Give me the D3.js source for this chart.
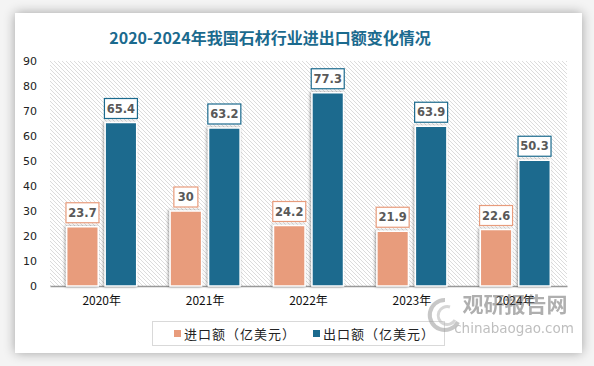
<!DOCTYPE html>
<html>
<head>
<meta charset="utf-8">
<script src="https://cdn.jsdelivr.net/npm/d3@7"></script>
<style>
  body { margin: 0; background: #fff; }
  svg { display: block; }
</style>
</head>
<body>
<div id="chart"></div>
<script>
// data
var years = ["2020年", "2021年", "2022年", "2023年", "2024年"];
var importVals = [23.7, 30, 24.2, 21.9, 22.6];
var exportVals = [65.4, 63.2, 77.3, 63.9, 50.3];
var seriesNames = ["进口额（亿美元）", "出口额（亿美元）"];
var yTicks = [0, 10, 20, 30, 40, 50, 60, 70, 80, 90];

var colors = ["#E89C7C", "#1B6A8E"];
var W = 594, H = 366;
var margin = {top: 61, right: 27, bottom: 80, left: 50},
    width = W - margin.left - margin.right,
    height = H - margin.top - margin.bottom;

var svg = d3.select("#chart")
  .append("svg")
    .attr("width", W)
    .attr("height", H);

var defs = svg.append("defs");

// card shadow
var sh = defs.append("filter").attr("id", "cardShadow")
  .attr("x", "-10%").attr("y", "-10%").attr("width", "120%").attr("height", "120%");
sh.append("feGaussianBlur").attr("in", "SourceAlpha").attr("stdDeviation", 6);
sh.append("feOffset").attr("dx", 0).attr("dy", 0).attr("result", "b");
sh.append("feComponentTransfer").append("feFuncA").attr("type", "linear").attr("slope", 0.35);
var m = sh.append("feMerge");
m.append("feMergeNode");
m.append("feMergeNode").attr("in", "SourceGraphic");

// bar shadow
var bs = defs.append("filter").attr("id", "barShadow")
  .attr("x", "-30%").attr("y", "-10%").attr("width", "160%").attr("height", "120%");
bs.append("feGaussianBlur").attr("in", "SourceAlpha").attr("stdDeviation", 1.5);
bs.append("feOffset").attr("dx", -1).attr("dy", 0);
bs.append("feComponentTransfer").append("feFuncA").attr("type", "linear").attr("slope", 0.4);
var m2 = bs.append("feMerge");
m2.append("feMergeNode");
m2.append("feMergeNode").attr("in", "SourceGraphic");

// hatch pattern
var pat = defs.append("pattern").attr("id", "hatch")
  .attr("patternUnits", "userSpaceOnUse")
  .attr("width", 4).attr("height", 4);
pat.append("rect").attr("width", 4).attr("height", 4).attr("fill", "#fff");
pat.append("path").attr("d", "M-1,-1 L5,5 M-1,3 L1,5 M3,-1 L5,1")
  .attr("stroke", "#dcdcdc").attr("stroke-width", 1);

// background
svg.append("rect").attr("width", W).attr("height", H).attr("fill", "#f4f4f4");
svg.append("rect")
  .attr("x", 15).attr("y", 13).attr("width", 567).attr("height", 340)
  .attr("fill", "#fff")
  .attr("filter", "url(#cardShadow)");

// title
svg.append("text")
  .attr("x", 270).attr("y", 44)
  .attr("text-anchor", "middle")
  .style("font-family", "'Noto Sans CJK SC', sans-serif")
  .style("font-weight", "bold")
  .style("font-size", "16px")
  .attr("fill", "#1B6A8E")
  .text("2020-2024年我国石材行业进出口额变化情况");

var g = svg.append("g")
  .attr("transform", "translate(" + margin.left + "," + margin.top + ")");

// X axis
var x = d3.scaleBand()
  .range([0, width])
  .domain(years);

var x1 = d3.scaleBand()
  .domain([0, 1])
  .range([x.bandwidth() / 2 - 35, x.bandwidth() / 2 + 35])
  .paddingInner(0.18);

// Y axis
var y = d3.scaleLinear()
  .domain([0, 90])
  .range([height, 0]);

// plot background
g.append("rect")
  .attr("width", width).attr("height", height)
  .attr("fill", "url(#hatch)");

g.append("g")
  .call(d3.axisLeft(y).tickValues(yTicks).tickSize(0).tickPadding(13))
  .call(function(a) { a.select(".domain").remove(); })
  .selectAll("text")
    .style("font-family", "Verdana, 'DejaVu Sans', sans-serif")
    .style("font-size", "11px")
    .attr("fill", "#222");

g.append("g")
  .attr("transform", "translate(0," + height + ")")
  .call(d3.axisBottom(x).tickSize(0).tickPadding(10))
  .call(function(a) {
    a.select(".domain").attr("stroke", "#999").attr("stroke-width", 1.5);
  })
  .selectAll("text")
    .style("font-family", "'Noto Sans CJK SC', sans-serif")
    .style("font-size", "12px")
    .attr("fill", "#111");

// Bars
var series = [importVals, exportVals];
series.forEach(function(vals, si) {
  var grp = g.append("g");
  grp.selectAll("rect")
    .data(vals)
    .enter()
    .append("rect")
      .attr("x", function(d, i) { return x(years[i]) + x1(si); })
      .attr("y", function(d) { return y(d); })
      .attr("width", x1.bandwidth())
      .attr("height", function(d) { return height - y(d); })
      .attr("fill", colors[si])
      .attr("stroke", "#fff")
      .attr("stroke-width", 1.5)
      .attr("filter", "url(#barShadow)");

  var lab = grp.selectAll("g.lab")
    .data(vals)
    .enter()
    .append("g")
      .attr("class", "lab")
      .attr("transform", function(d, i) {
        var cx = x(years[i]) + x1(si) + x1.bandwidth() / 2;
        return "translate(" + cx + "," + (y(d) - 14) + ")";
      });
  lab.append("rect")
    .attr("x", function(d) { return String(d).length > 2 ? -16.5 : -12; })
    .attr("y", -10)
    .attr("width", function(d) { return String(d).length > 2 ? 33 : 24; })
    .attr("height", 20)
    .attr("fill", "#fff")
    .attr("stroke", colors[si])
    .attr("stroke-width", 1.2);
  lab.append("text")
    .attr("text-anchor", "middle")
    .attr("dy", "0.36em")
    .style("font-family", "Verdana, 'DejaVu Sans', sans-serif")
    .style("font-weight", "bold")
    .style("font-size", "11.5px")
    .attr("fill", "#595959")
    .text(function(d) { return d; });
});

// legend
var leg = svg.append("g");
leg.append("rect")
  .attr("x", 152.5).attr("y", 321.5).attr("width", 292).attr("height", 24)
  .attr("fill", "#fff").attr("stroke", "#d9d9d9");
var legX = [174, 313];
seriesNames.forEach(function(name, i) {
  leg.append("rect")
    .attr("x", legX[i]).attr("y", 330).attr("width", 7).attr("height", 7)
    .attr("fill", colors[i]);
  leg.append("text")
    .attr("x", legX[i] + 10).attr("y", 338.5)
    .style("font-family", "'Noto Sans CJK SC', sans-serif")
    .style("font-size", "13px")
    .style("letter-spacing", "1px")
    .attr("fill", "#222")
    .text(name);
});

// watermark
var wm = svg.append("g").attr("opacity", 0.55);
wm.append("path")
  .attr("d", "M445,300 A15,15 0 1,0 458,322")
  .attr("fill", "none").attr("stroke", "#9a9a9a").attr("stroke-width", 4);
wm.append("path")
  .attr("d", "M450,307 A9,9 0 1,0 455,320")
  .attr("fill", "none").attr("stroke", "#b5b5b5").attr("stroke-width", 3);
wm.append("text")
  .attr("x", 515).attr("y", 312)
  .attr("text-anchor", "middle")
  .style("font-family", "'Noto Sans CJK SC', sans-serif")
  .style("font-weight", "bold")
  .style("font-size", "21px")
  .attr("fill", "#6e6e6e")
  .text("观研报告网");
wm.append("text")
  .attr("x", 514).attr("y", 333)
  .attr("text-anchor", "middle")
  .style("font-family", "'DejaVu Sans', sans-serif")
  .style("font-size", "13.5px")
  .attr("fill", "#8a8a8a")
  .text("chinabaogao.com");
</script>
</body>
</html>
